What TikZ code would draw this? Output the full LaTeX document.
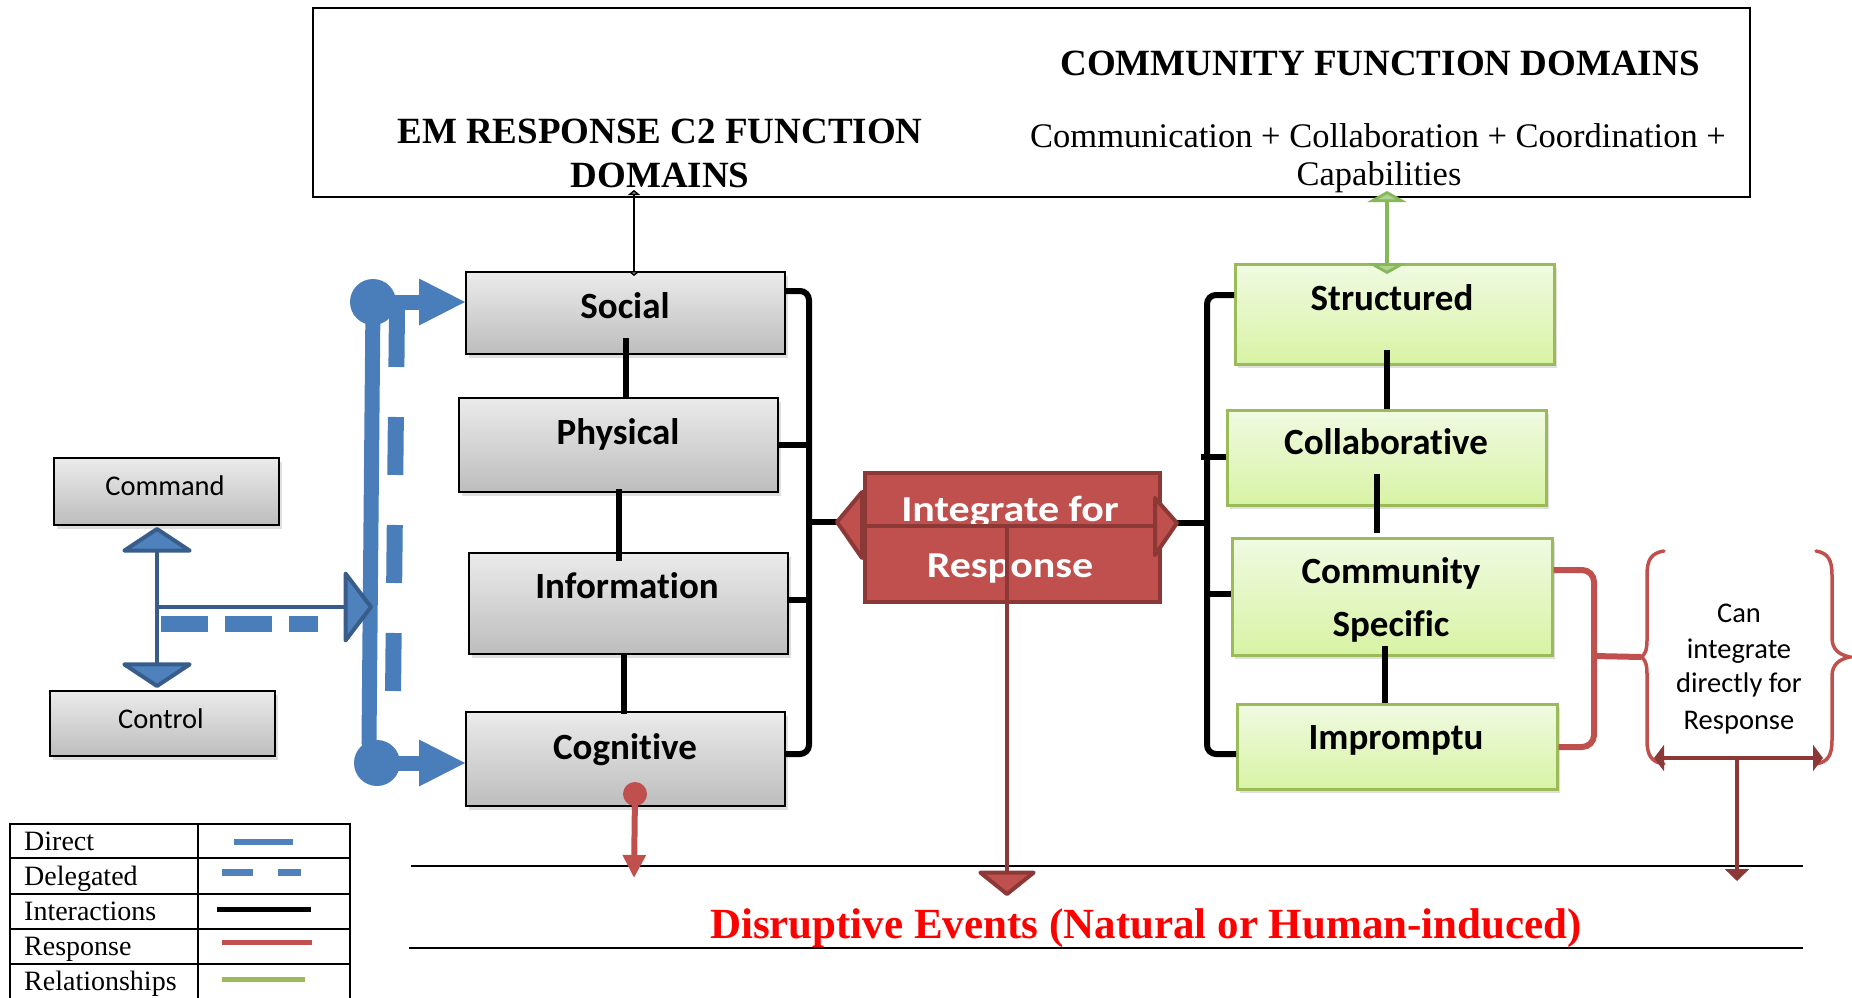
\documentclass[tikz,border=0pt]{standalone}
\usepackage{fontspec}
\setmainfont{Liberation Serif}
\newfontfamily\carlito[Ligatures=NoCommon]{Carlito}
\newfontfamily\carlitowide[FakeStretch=1.15,Ligatures=NoCommon]{Carlito}
\usetikzlibrary{arrows.meta,shadows}

\definecolor{blueA}{HTML}{4A7EBB}
\definecolor{blueB}{HTML}{4F81BD}
\definecolor{blueD}{HTML}{385D8A}
\definecolor{redA}{HTML}{C0504D}
\definecolor{redD}{HTML}{8C3836}
\definecolor{greenA}{HTML}{9BBB59}
\definecolor{greenL}{HTML}{AED393}
\definecolor{greenS}{HTML}{86B857}
\definecolor{greenT}{HTML}{F0FAE2}
\definecolor{greenB}{HTML}{D8F3A4}
\definecolor{grayT}{HTML}{EBEBEB}
\definecolor{grayB}{HTML}{BDBDBD}
\definecolor{evred}{HTML}{FF0000}

\begin{document}
\begin{tikzpicture}[x=1pt,y=-1pt,
  boxshadow/.style={drop shadow={shadow xshift=3pt,shadow yshift=-4pt,opacity=0.25}},
  graybox/.style={draw=black,line width=2.2pt,top color=grayT,bottom color=grayB,
    boxshadow,anchor=north west,inner sep=0pt},
  greenbox/.style={draw=greenA,line width=2.5pt,top color=greenT,bottom color=greenB,
    boxshadow,anchor=north west,inner sep=0pt},
  boxlabel/.style={font=\carlito\bfseries\fontsize{37}{44}\selectfont,anchor=base,inner sep=0pt},
  smalllabel/.style={font=\carlito\fontsize{28.5}{34}\selectfont,anchor=base,inner sep=0pt},
  head/.style={font=\bfseries\fontsize{37}{44}\selectfont,anchor=base,inner sep=0pt},
  sub/.style={font=\fontsize{34.5}{41}\selectfont,anchor=base,inner sep=0pt},
  legtext/.style={font=\fontsize{28}{33}\selectfont,anchor=base west,inner sep=0pt},
  inttext/.style={font=\carlitowide\bfseries\fontsize{36.5}{44}\selectfont,text=white,anchor=base,inner sep=0pt},
  direct/.style={draw=blueA,line width=15pt},
  delegated/.style={draw=blueA,line width=16pt},
  ctrl/.style={draw=blueD,line width=4pt},
  inter/.style={draw=black,line width=6pt},
  response/.style={draw=redA,line width=6pt},
  redline/.style={draw=redD,line width=4pt},
  relat/.style={draw=greenS,line width=3.5pt},
]
\useasboundingbox (0,0) rectangle (1852,998);

% ---------- header frame ----------
\node[draw=black,line width=2.4pt,minimum width=1437pt,minimum height=189pt,
  anchor=north west,inner sep=0pt] (header) at (312,7) {};
\node[head] (emA) at (660,143) {EM RESPONSE C2 FUNCTION};
\node[head] (emB) at (660,187) {DOMAINS};
\node[head] (cfA) at (1380,75) {COMMUNITY FUNCTION DOMAINS};
\node[sub] (cfB) at (1378,147) {Communication + Collaboration + Coordination +};
\node[sub] (cfC) at (1379,185) {Capabilities};

% ---------- C2 domain boxes ----------
\node[graybox,minimum width=319pt,minimum height=82pt] (social) at (465,271) {};
\node[graybox,minimum width=319pt,minimum height=94pt] (physical) at (458,397) {};
\node[graybox,minimum width=319pt,minimum height=101pt] (information) at (468,552) {};
\node[graybox,minimum width=319pt,minimum height=94pt] (cognitive) at (465,711) {};
\node[boxlabel] (socialT) at (625,318) {Social};
\node[boxlabel] (physicalT) at (618,444) {Physical};
\node[boxlabel] (informationT) at (627,598) {Information};
\node[boxlabel] (cognitiveT) at (625,759) {Cognitive};

\node[graybox,minimum width=225pt,minimum height=67pt] (command) at (53,457) {};
\node[graybox,minimum width=225pt,minimum height=65pt] (control) at (49,690) {};
\node[smalllabel] (commandT) at (165,495) {Command};
\node[smalllabel] (controlT) at (161,728) {Control};

% ---------- community domain boxes ----------
\node[greenbox,minimum width=319pt,minimum height=100pt] (structured) at (1234,263) {};
\node[greenbox,minimum width=319pt,minimum height=95pt] (collaborative) at (1226,409) {};
\node[greenbox,minimum width=320pt,minimum height=117pt] (community) at (1231,537) {};
\node[greenbox,minimum width=320pt,minimum height=85pt] (impromptu) at (1236,703) {};
\node[boxlabel] (structuredT) at (1392,310) {Structured};
\node[boxlabel] (collaborativeT) at (1386,454) {Collaborative};
\node[boxlabel] (communityT) at (1391,583) {Community};
\node[boxlabel] (specificT) at (1391,636) {Specific};
\node[boxlabel] (impromptuT) at (1396,749) {Impromptu};

% ---------- links to the header ----------
\coordinate (bkT) at (634,190);
\coordinate (bkB) at (634,276);
\draw[line width=1.5pt,{Triangle[length=5pt,width=12pt,fill=gray]}-{Triangle[length=5pt,width=12pt,fill=gray]}]
  (bkT) -- (bkB);
\coordinate (grT) at (1387,191);
\coordinate (grB) at (1387,274);
\draw[relat,{Triangle[length=11pt,width=39pt,fill=greenL]}-{Triangle[length=11pt,width=39pt,fill=greenL]}]
  (grT) -- (grB);

% ---------- interactions between domains ----------
\draw[inter] ([yshift=17pt]social.south) -- (social.south |- physical.north);
\draw[inter] ([yshift=4pt]physical.south) -- ([yshift=-9pt]physical.south |- information.north);
\draw[inter] ([xshift=-5pt]information.south) -- ([xshift=-5pt,yshift=-3pt]information.south |- cognitive.north);

\draw[inter] ([yshift=16pt]structured.south -| collaborative.north) -- (collaborative.north);
\draw[inter] ([xshift=-10pt,yshift=33pt]collaborative.south) -- ([xshift=-10pt,yshift=4pt]collaborative.south |- community.north);
\draw[inter] ([xshift=-7pt,yshift=11pt]community.south) -- ([xshift=-7pt]community.south |- impromptu.north);

% left bracket
\coordinate (lbtop) at (809,291);
\coordinate (lbbot) at (809,754);
\coordinate (lbx) at (809,522);
\draw[inter,rounded corners=9pt] (social.east |- lbtop) -- (lbtop) -- (lbbot) -- (cognitive.east |- lbbot);
\draw[inter] (physical.east) -- (physical.east -| lbtop);
\draw[inter] ([yshift=4pt]information.east) -- ([yshift=4pt]information.east -| lbtop);

% right bracket
\coordinate (rbtop) at (1207,295);
\coordinate (rbbot) at (1207,754);
\coordinate (rbx) at (1207,523);
\draw[inter,rounded corners=9pt] (structured.west |- rbtop) -- (rbtop) -- (rbbot) -- (impromptu.west |- rbbot);
\draw[inter] ([xshift=-6pt,yshift=1pt]rbtop |- collaborative.west) -- ([yshift=1pt]collaborative.west);
\draw[inter] ([yshift=3pt]rbtop |- community.west) -- ([yshift=3pt]community.west);

% ---------- integrate for response ----------
\coordinate (intL) at (837,522);
\coordinate (intR) at (1177,523);
\draw[inter] (lbx) -- (intL);
\draw[inter] (rbx) -- (intR);
\node[draw=redD,fill=redA,line width=4pt,minimum width=295pt,minimum height=129pt,
  anchor=north west,inner sep=0pt] (integrate) at (863,471) {};
\node[inttext] (intA) at (1010,521) {Integrate for};
\node[inttext] (intB) at (1010,577) {Response};
\coordinate (intmid) at (1007,526);
\coordinate (intmidR) at (1154,526);
\draw[redline] (integrate.west |- intmid) -- (intmidR);
\filldraw[fill=redA,draw=redD,line width=4pt,line join=round] (862,492) -- (intL) -- (862,558) -- cycle;
\filldraw[fill=redA,draw=redD,line width=4pt,line join=round] (1155,498) -- (intR) -- (1155,555) -- cycle;

% ---------- disruptive events band ----------
\coordinate (evTL) at (411,866);
\coordinate (evTR) at (1803,866);
\coordinate (evBL) at (409,948);
\coordinate (evBR) at (1803,948);
\draw[line width=2.2pt] (evTL) -- (evTR);
\draw[line width=2.2pt] (evBL) -- (evBR);
\node[font=\bfseries\fontsize{43}{50}\selectfont,text=evred,anchor=base,inner sep=0pt]
  (events) at (1146,938) {Disruptive Events (Natural or Human-induced)};

\coordinate (evM) at (1007,896);
\draw[redline,-{Triangle[length=26pt,width=64pt,fill=redA,round]}] (intmid) -- (evM);

% response from the cognitive domain
\coordinate (cogdot) at (635,794);
\coordinate (evL) at (634,878);
\fill[redA] (cogdot) circle[radius=12pt];
\draw[response,-{Triangle[length=23pt,width=22pt]}] (cogdot) -- (evL);

% ---------- direct integration for response ----------
\coordinate (rrtop) at (1594,570);
\coordinate (rrbot) at (1594,747);
\coordinate (rrx) at (1594,656);
\coordinate (cusp) at (1641,657);
\draw[response,rounded corners=12pt] (community.east |- rrtop) -- (rrtop) -- (rrbot) -- (impromptu.east |- rrbot);
\draw[response,rounded corners=8pt] (rrx) -- (cusp);

\draw[redA,line width=3.5pt,line cap=round]
  (1664,551) .. controls (1651,553) and (1647,560) .. (1647,575) -- (1647,640)
  .. controls (1647,650) and (1645,655) .. (cusp)
  .. controls (1645,659) and (1647,664) .. (1647,674) -- (1647,740)
  .. controls (1647,755) and (1651,762) .. (1664,764);
\draw[redA,line width=3.5pt,line cap=round]
  (1816,551) .. controls (1828,553) and (1832,560) .. (1832,575) -- (1832,638)
  .. controls (1832,650) and (1840,655) .. (1850,657)
  .. controls (1840,659) and (1832,664) .. (1832,676) -- (1832,740)
  .. controls (1832,755) and (1828,762) .. (1816,764);

\node[smalllabel] (canA) at (1739,622) {Can};
\node[smalllabel] (canB) at (1739,658) {integrate};
\node[smalllabel] (canC) at (1739,692) {directly for};
\node[smalllabel] (canD) at (1739,729) {Response};

\coordinate (daL) at (1654,758);
\coordinate (daR) at (1823,758);
\coordinate (daM) at (1737,758);
\coordinate (evR) at (1737,881);
\draw[redline,{Triangle[length=10pt,width=26pt]}-{Triangle[length=10pt,width=26pt]}] (daL) -- (daR);
\draw[redline,-{Triangle[length=12pt,width=24pt]}] (daM) -- (evR);

% ---------- command and control ----------
\coordinate (dotT) at (373,302);
\coordinate (bend) at (369,742);
\coordinate (dotB) at (377,763);
\draw[direct] (dotT) -- (bend) -- (dotB);
\fill[blueA] (dotT) circle[radius=23pt];
\fill[blueA] (dotB) circle[radius=23pt];
\draw[direct,-{Triangle[length=46pt,width=47pt,line width=0pt]}] (dotT) -- (dotT -| social.west);
\draw[direct,-{Triangle[length=46pt,width=47pt,line width=0pt]}] (dotB) -- (dotB -| cognitive.west);

\coordinate (dlgT) at (397,309);
\coordinate (dlgB) at (393,697);
\draw[delegated,dash pattern=on 58pt off 50pt] (dlgT) -- (dlgB);

\coordinate (ccT) at (157,527);
\coordinate (ccB) at (157,688);
\coordinate (ccM) at (157,607);
\draw[ctrl,{Triangle[length=26pt,width=78pt,fill=blueB,round]}-{Triangle[length=26pt,width=78pt,fill=blueB,round]}]
  (ccT) -- (ccB);
\draw[ctrl,-{Triangle[length=30pt,width=78pt,fill=blueB,round]}] (ccM) -- (ccM -| dotT);
\coordinate (dlgL) at (161,624);
\coordinate (dlgR) at (318,624);
\draw[delegated,dash pattern=on 47pt off 17pt] (dlgL) -- (dlgR);

% ---------- legend ----------
\draw[line width=2.4pt] (10,824) rectangle (350,1000);
\draw[line width=2.4pt] (198,824) -- (198,1000);
\foreach \yy in {858,894,929,964} \draw[line width=2.4pt] (10,\yy) -- (350,\yy);
\node[legtext] (lgA) at (24,850) {Direct};
\node[legtext] (lgB) at (24,885) {Delegated};
\node[legtext] (lgC) at (24,920) {Interactions};
\node[legtext] (lgD) at (24,955) {Response};
\node[legtext] (lgE) at (24,990) {Relationships};
\draw[draw=blueB,line width=6pt] (234,842) -- (293,842);
\draw[draw=blueB,line width=7pt] (222,872) -- (253,872);
\draw[draw=blueB,line width=7pt] (278,872) -- (301,872);
\draw[draw=black,line width=5pt] (217,909) -- (311,909);
\draw[draw=redA,line width=5pt] (222,942) -- (312,942);
\draw[draw=greenA,line width=5pt] (222,979) -- (305,979);
\end{tikzpicture}
\end{document}
